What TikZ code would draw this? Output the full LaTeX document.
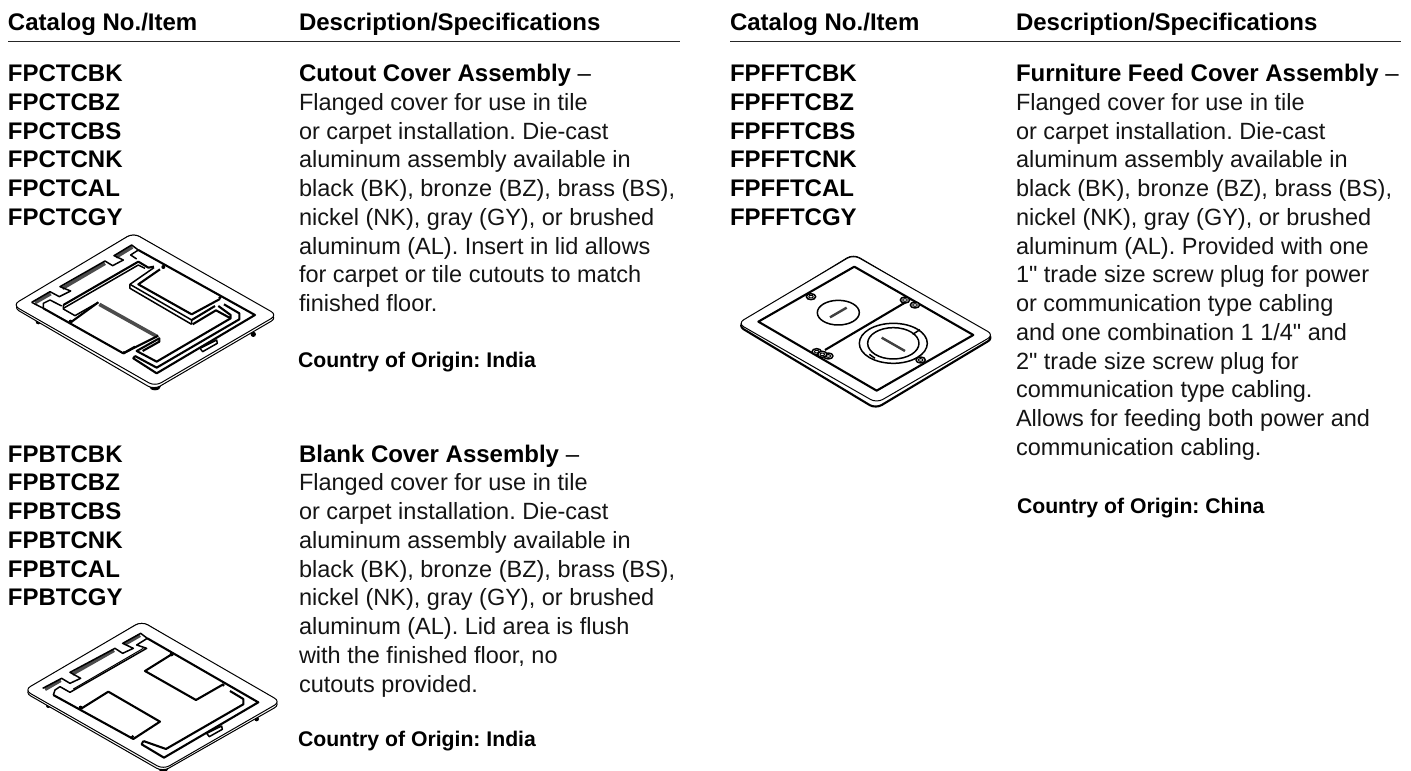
\documentclass[tikz,border=0pt]{standalone}
\usepackage{fontspec}
\setmainfont{Liberation Sans}[Ligatures=TeXOff]
\frenchspacing
\tikzset{
  txt/.style={anchor=base west,inner sep=0pt,outer sep=0pt,font=\fontsize{23.5}{28}\selectfont,text=black!92},
  btxt/.style={txt,font=\fontsize{24}{28}\selectfont\bfseries,text=black},
  ctxt/.style={txt,font=\fontsize{21.2}{25}\selectfont\bfseries,text=black},
  hrule/.style={line width=1.3pt,black!85},
  ln/.style={line width=1.0pt,black,line join=round},
  med/.style={line width=1.5pt,black,line join=round},
  thk/.style={line width=2.1pt,black,line join=round},
  hat/.style={line width=3.6pt,black!70},
  px3/.style={x=0.3333pt,y=-0.3333pt},
}
\newcommand{\listat}[4]{% x, first y, style, items
  \foreach \t [count=\i from 0] in {#4} {
    \node[#3] (n#1#2\i) at (#1,#2+28.75*\i) {\t};
  }
}
\begin{document}
\begin{tikzpicture}[x=1pt,y=-1pt]
\useasboundingbox (0,0) rectangle (1411,771);
% headers
\node[btxt] (h1) at (8,30) {Catalog No./Item};
\node[btxt] (h2) at (299,30) {Description/Specifications};
\node[btxt] (h3) at (730,30) {Catalog No./Item};
\node[btxt] (h4) at (1016,30) {Description/Specifications};
\draw[hrule] (8,41.5) -- (680,41.5);
\draw[hrule] (730,41.5) -- (1401,41.5);
% catalog columns
\listat{8}{81.5}{btxt}{FPCTCBK,FPCTCBZ,FPCTCBS,FPCTCNK,FPCTCAL,FPCTCGY}
\listat{8}{462}{btxt}{FPBTCBK,FPBTCBZ,FPBTCBS,FPBTCNK,FPBTCAL,FPBTCGY}
\listat{730}{81.5}{btxt}{FPFFTCBK,FPFFTCBZ,FPFFTCBS,FPFFTCNK,FPFFTCAL,FPFFTCGY}
% descriptions
\node[btxt] (d1) at (299,81.5) {Cutout Cover Assembly \mdseries–};
\listat{299}{110.25}{txt}{Flanged cover for use in tile,or carpet installation. Die-cast,aluminum assembly available in,{black (BK), bronze (BZ), brass (BS),},{nickel (NK), gray (GY), or brushed},aluminum (AL). Insert in lid allows,for carpet or tile cutouts to match,finished floor.}
\node[ctxt] (c1) at (298,367) {Country of Origin: India};
\node[btxt] (d2) at (299,462) {Blank Cover Assembly \mdseries–};
\listat{299}{490.75}{txt}{Flanged cover for use in tile,or carpet installation. Die-cast,aluminum assembly available in,{black (BK), bronze (BZ), brass (BS),},{nickel (NK), gray (GY), or brushed},aluminum (AL). Lid area is flush,{with the finished floor, no},cutouts provided.}
\node[ctxt] (c2) at (298,746) {Country of Origin: India};
\node[btxt] (d3) at (1016,81.5) {Furniture Feed Cover Assembly \mdseries–};
\listat{1016}{110.25}{txt}{Flanged cover for use in tile,or carpet installation. Die-cast,aluminum assembly available in,{black (BK), bronze (BZ), brass (BS),},{nickel (NK), gray (GY), or brushed},aluminum (AL). Provided with one,1" trade size screw plug for power,or communication type cabling,and one combination 1 1/4" and,2" trade size screw plug for,communication type cabling.,Allows for feeding both power and,communication cabling.}
\node[ctxt] (c3) at (1017,513) {Country of Origin: China};
% ---- cutout cover
\begin{scope}[shift={(0,225)},px3]
\fill (115,290) circle (8); \fill (465,483) ellipse (18 and 13); \fill (760,328) circle (8);
\draw[ln,rounded corners=7pt,fill=white] (39,247) -- (462,494) -- (832,278) -- (400,24) -- cycle;
\draw[ln,rounded corners=7pt,fill=white] (400,24) -- (832,270) -- (465,484) -- (38,240) -- cycle;
% hatch bands
\draw[hat] (105,233) -- (152,206); \draw[hat] (187,190) -- (315,115); \draw[hat] (348,96) -- (397,66);
% notched top edge
\draw[med] (95,232) -- (150,200) -- (178,215) -- (212,198) -- (180,185) -- (315,108) -- (338,122) -- (370,105) -- (342,92) -- (395,60) -- (415,75) -- (392,90) -- (410,102);
\draw[med] (95,232) -- (130,250) -- (130,235) -- (150,225) -- (185,243);
% frame
\draw[thk] (415,75) -- (765,270) -- (470,445) -- (400,400) -- (405,393);
\draw[thk] (130,250) -- (370,385) -- (405,365);
% long strip
\draw[thk] (190,240) -- (415,110) -- (445,128) -- (462,125);
\draw[med] (190,250) -- (415,120) -- (435,130);
\draw[med] (190,240) -- (190,252) -- (225,272) -- (295,232);
% right window
\draw[thk] (480,133) -- (415,178) -- (575,268) -- (660,222);
\draw[med] (462,128) -- (390,178) -- (390,190) -- (575,298);
\draw[med] (390,178) -- (575,285) -- (575,298);
\draw[thk] (575,285) -- (645,243);
\draw[thk] (578,298) -- (648,256) -- (692,280) -- (692,270) -- (655,243);
% channel
\draw[thk] (672,238) -- (718,265) -- (718,283) -- (470,428) -- (405,393);
\draw[thk] (692,280) -- (470,410) -- (410,378) -- (478,340) -- (478,350) -- (428,378);
% left window
\draw[thk] (215,290) -- (295,232);
\draw[hat] (298,238) -- (472,335);
\draw[thk] (475,332) -- (370,385);
\draw[med] (600,370) -- (650,345) -- (652,355) -- (608,380) -- cycle;
\fill (490,126) circle (6); \fill (660,218) circle (5); \fill (212,290) circle (6); \fill (372,383) circle (5);
\end{scope}
% ---- blank cover
\begin{scope}[shift={(10,615)},px3]
\fill (115,272) circle (7); \fill (460,460) ellipse (16 and 10); \fill (740,312) circle (7);
\draw[ln,rounded corners=7pt,fill=white] (43,232) -- (458,470) -- (812,268) -- (395,19) -- cycle;
\draw[ln,rounded corners=7pt,fill=white] (395,19) -- (812,260) -- (460,463) -- (43,225) -- cycle;
\draw[hat] (105,223) -- (152,196); \draw[hat] (187,177) -- (312,106); \draw[hat] (345,87) -- (390,61);
\draw[med] (98,220) -- (155,190) -- (180,205) -- (212,190) -- (180,172) -- (315,100) -- (338,115) -- (370,100) -- (338,85) -- (392,55) -- (412,70) -- (380,90) -- (410,100) -- (180,232) -- (150,215) -- (135,225) -- (130,240);
\draw[ln] (190,222) -- (400,100);
\draw[thk] (412,70) -- (745,262) -- (462,428) -- (395,388) -- (400,378);
\draw[thk] (130,240) -- (370,372) -- (450,320) -- (295,230) -- (215,280);
\draw[thk] (485,118) -- (405,168) -- (558,255) -- (640,208);
\draw[thk] (660,228) -- (700,252) -- (700,268) -- (468,402) -- (400,378);
\draw[med] (590,355) -- (635,333) -- (637,343) -- (598,365) -- cycle;
\fill (485,118) circle (6); \fill (640,210) circle (5); \fill (212,278) circle (6); \fill (368,365) circle (5);
\end{scope}
% ---- furniture feed cover
\begin{scope}[shift={(725,255)},px3]
\draw[thk,rounded corners=7pt,fill=white] (38,212) -- (452,461) -- (807,248) -- (385,-1) -- cycle;
\draw[ln,rounded corners=7pt,fill=white] (385,-1) -- (807,240) -- (455,444) -- (38,205) -- cycle;
\draw[thk] (388,35) -- (745,240) -- (455,407) -- (100,200) -- cycle;
\draw[thk] (300,285) -- (545,140);
\draw[med,fill=white] (340,173) ellipse (63 and 37);
\draw[med,fill=white] (505,265) ellipse (102 and 60);
\draw[med,fill=white] (505,265) ellipse (77 and 47);
\draw[line width=2.4pt,black!75] (315,187) -- (365,158);
\draw[line width=2.4pt,black!75] (470,248) -- (540,288);
\draw[med] (563,238) -- (585,224); \draw[med] (433,298) -- (450,310);
\foreach \p in {(258,125),(275,290),(310,303),(540,135),(570,150),(587,315),(292,298)}{
  \draw[med,fill=white] \p ellipse (14 and 9);
  \draw[ln] \p ellipse (7 and 4);
}
\end{scope}
\end{tikzpicture}
\end{document}
